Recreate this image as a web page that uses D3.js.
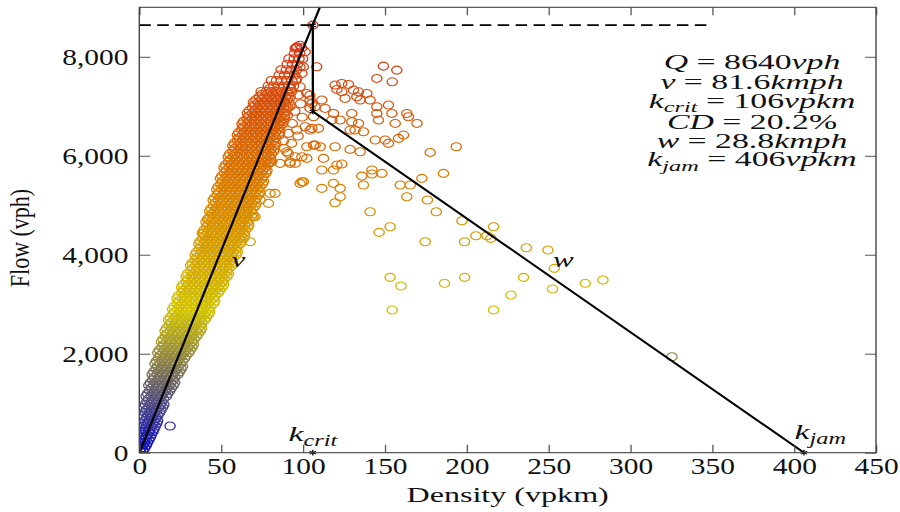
<!DOCTYPE html>
<html>
<head>
<meta charset="utf-8">
<script src="https://cdn.jsdelivr.net/npm/d3@7"></script>
<style>
  body { margin: 0; background: #fff; }
  svg { display: block; }
</style>
</head>
<body>
<svg id="chart" width="900" height="512"></svg>
<script>
// Axis ticks
const densityTicks = [0, 50, 100, 150, 200, 250, 300, 350, 400, 450];
const flowTicks = [0, 2000, 4000, 6000, 8000];

// Fitted triangular fundamental diagram parameters
const capacity = 8640;      // vph
const freeSpeed = 81.6;     // kmph
const kCrit = 106;          // vpkm
const capacityDrop = 0.202; // fraction
const waveSpeed = 28.8;     // kmph
const kJam = 406;           // vpkm
const capacityLineEnd = 350; // vpkm, end of the dashed capacity line

// Free-flow observations, grouped by flow level (vph): densities (vpkm) at that flow
const bandRows = [
  [40, [0.4, 2.2]],
  [95, [1.2, 3.3]],
  [150, [0.2, 2.1, 4.3]],
  [205, [1.0, 3.1, 5.0]],
  [260, [0.6, 3.3, 5.9]],
  [315, [1.5, 4.2, 6.8]],
  [370, [1.9, 4.7, 7.4]],
  [425, [0.9, 3.4, 6.1, 8.4]],
  [480, [0.8, 3.6, 6.3, 9.0]],
  [535, [1.7, 4.5, 7.3, 9.8]],
  [590, [2.4, 5.2, 8.4, 10.6]],
  [645, [3.2, 6.1, 9.1, 11.2]],
  [700, [1.6, 4.5, 7.6, 10.3]],
  [755, [2.4, 5.4, 8.5, 11.4]],
  [810, [3.4, 6.4, 9.3, 12.5]],
  [865, [4.2, 7.2, 10.2, 13.3]],
  [920, [2.7, 5.9, 8.8, 11.8, 14.3]],
  [975, [3.6, 6.7, 9.8, 12.9, 15.0]],
  [1030, [4.6, 7.5, 10.8, 13.7]],
  [1085, [5.5, 8.5, 11.6, 14.8]],
  [1140, [4.1, 7.3, 10.2, 13.3, 16.6]],
  [1195, [5.0, 8.2, 11.2, 14.4, 17.4]],
  [1250, [6.3, 9.5, 12.4, 15.8, 18.6]],
  [1305, [7.2, 10.3, 13.5, 16.6, 19.6]],
  [1360, [5.8, 8.8, 12.1, 15.3, 18.2, 20.8]],
  [1415, [6.7, 9.8, 13.0, 16.2, 19.3, 21.6]],
  [1470, [8.1, 11.4, 14.3, 17.6, 20.8]],
  [1525, [9.0, 12.2, 15.3, 18.5, 21.7]],
  [1580, [7.9, 11.0, 14.3, 17.2, 20.5, 23.6]],
  [1635, [8.8, 11.9, 15.1, 18.3, 21.5, 24.5]],
  [1690, [10.2, 13.4, 16.4, 19.8, 22.7, 25.6]],
  [1745, [11.1, 14.2, 17.4, 20.6, 23.8, 26.4]],
  [1800, [9.6, 12.7, 16.0, 19.1, 22.4, 25.3]],
  [1855, [10.5, 13.7, 16.9, 20.1, 23.3, 26.4]],
  [1910, [11.8, 15.1, 18.0, 21.4, 24.4, 27.7]],
  [1965, [12.7, 15.9, 19.1, 22.3, 25.5, 28.6]],
  [2020, [11.3, 14.4, 17.7, 20.7, 24.1, 27.1, 30.2]],
  [2075, [12.2, 15.4, 18.6, 21.8, 25.0, 28.2, 31.1]],
  [2130, [13.8, 17.1, 20.1, 23.5, 26.5, 29.8, 32.3]],
  [2185, [14.7, 17.9, 21.1, 24.3, 27.5, 30.7, 33.0]],
  [2240, [13.5, 16.7, 19.7, 23.1, 26.1, 29.5, 32.5]],
  [2295, [14.4, 17.6, 20.8, 24.0, 27.2, 30.4, 33.6]],
  [2350, [15.9, 19.2, 22.2, 25.6, 28.6, 32.0, 35.0]],
  [2405, [16.8, 20.0, 23.2, 26.4, 29.6, 32.8, 35.9]],
  [2460, [15.7, 18.9, 21.9, 25.3, 28.3, 31.7, 34.7, 37.3]],
  [2515, [16.6, 19.8, 23.0, 26.2, 29.4, 32.6, 35.8, 38.0]],
  [2570, [18.2, 21.5, 24.5, 27.9, 30.9, 34.3, 37.4]],
  [2625, [19.1, 22.3, 25.5, 28.7, 31.9, 35.1, 38.3]],
  [2680, [17.9, 21.1, 24.1, 27.5, 30.5, 33.9, 36.9, 40.0]],
  [2735, [18.8, 22.0, 25.2, 28.4, 31.6, 34.8, 38.0, 41.0]],
  [2790, [20.4, 23.7, 26.7, 30.1, 33.1, 36.5, 39.5, 42.2]],
  [2845, [21.3, 24.5, 27.7, 30.9, 34.1, 37.3, 40.5, 43.0]],
  [2900, [20.3, 23.5, 26.5, 29.9, 32.9, 36.3, 39.3, 42.6]],
  [2955, [21.2, 24.4, 27.6, 30.8, 34.0, 37.2, 40.4, 43.6]],
  [3010, [23.1, 26.4, 29.4, 32.8, 35.8, 39.2, 42.2, 45.3]],
  [3065, [24.0, 27.2, 30.4, 33.6, 36.8, 40.0, 43.2, 46.1]],
  [3120, [23.1, 26.3, 29.3, 32.7, 35.7, 39.1, 42.1, 45.4]],
  [3175, [24.0, 27.2, 30.4, 33.6, 36.8, 40.0, 43.2, 46.4]],
  [3230, [25.9, 29.2, 32.2, 35.6, 38.6, 42.0, 45.0, 48.3]],
  [3285, [26.8, 30.0, 33.2, 36.4, 39.6, 42.8, 46.0, 49.2]],
  [3340, [25.8, 29.0, 32.0, 35.4, 38.4, 41.8, 44.8, 48.2, 50.6]],
  [3395, [26.7, 29.9, 33.1, 36.3, 39.5, 42.7, 45.9, 49.1, 51.4]],
  [3450, [28.6, 31.9, 34.9, 38.3, 41.3, 44.7, 47.7, 51.0]],
  [3505, [29.5, 32.7, 35.9, 39.1, 42.3, 45.5, 48.7, 51.9]],
  [3560, [28.6, 31.8, 34.8, 38.2, 41.2, 44.6, 47.6, 51.0, 53.6]],
  [3615, [29.5, 32.7, 35.9, 39.1, 42.3, 45.5, 48.7, 51.9, 54.4]],
  [3670, [31.4, 34.7, 37.7, 41.1, 44.1, 47.5, 50.5, 53.8]],
  [3725, [32.3, 35.5, 38.7, 41.9, 45.1, 48.3, 51.5, 54.7]],
  [3780, [31.3, 34.5, 37.5, 40.9, 43.9, 47.3, 50.3, 53.7, 56.4]],
  [3835, [32.2, 35.4, 38.6, 41.8, 45.0, 48.2, 51.4, 54.6, 57.1]],
  [3890, [34.1, 37.4, 40.4, 43.8, 46.8, 50.2, 53.2, 56.5]],
  [3945, [35.0, 38.2, 41.4, 44.6, 47.8, 51.0, 54.2, 57.4]],
  [4000, [34.1, 37.3, 40.3, 43.7, 46.7, 50.1, 53.1, 56.5, 59.2]],
  [4055, [35.0, 38.2, 41.4, 44.6, 47.8, 51.0, 54.2, 57.4, 59.9]],
  [4110, [36.6, 39.9, 42.9, 46.3, 49.3, 52.7, 55.7, 59.0]],
  [4165, [37.5, 40.7, 43.9, 47.1, 50.3, 53.5, 56.7, 59.9]],
  [4220, [36.3, 39.5, 42.5, 45.9, 48.9, 52.3, 55.3, 58.7, 61.6]],
  [4275, [37.2, 40.4, 43.6, 46.8, 50.0, 53.2, 56.4, 59.6, 62.4]],
  [4330, [38.8, 42.1, 45.1, 48.5, 51.5, 54.9, 57.9, 61.2, 63.6]],
  [4385, [39.7, 42.9, 46.1, 49.3, 52.5, 55.7, 58.9, 62.1, 64.4]],
  [4440, [38.5, 41.7, 44.7, 48.1, 51.1, 54.5, 57.5, 60.9, 64.0]],
  [4495, [39.4, 42.6, 45.8, 49.0, 52.2, 55.4, 58.6, 61.8, 64.8]],
  [4550, [41.0, 44.3, 47.3, 50.7, 53.7, 57.1, 60.1, 63.4, 66.2]],
  [4605, [41.9, 45.1, 48.3, 51.5, 54.7, 57.9, 61.1, 64.3, 66.9]],
  [4660, [40.7, 43.9, 46.9, 50.3, 53.3, 56.7, 59.7, 63.1, 66.2]],
  [4715, [41.6, 44.8, 48.0, 51.2, 54.4, 57.6, 60.8, 64.0, 67.0]],
  [4770, [43.2, 46.5, 49.5, 52.9, 55.9, 59.3, 62.3, 65.6, 68.6]],
  [4825, [44.1, 47.3, 50.5, 53.7, 56.9, 60.1, 63.3, 66.5, 69.3]],
  [4880, [42.9, 46.1, 49.1, 52.5, 55.5, 58.9, 61.9, 65.3, 68.4]],
  [4935, [43.8, 47.0, 50.2, 53.4, 56.6, 59.8, 63.0, 66.2, 69.4]],
  [4990, [45.4, 48.7, 51.7, 55.1, 58.1, 61.5, 64.5, 67.8, 70.8]],
  [5045, [46.3, 49.5, 52.7, 55.9, 59.1, 62.3, 65.5, 68.7, 71.4]],
  [5100, [45.1, 48.3, 51.3, 54.7, 57.7, 61.1, 64.1, 67.5, 70.6]],
  [5155, [46.0, 49.2, 52.4, 55.6, 58.8, 62.0, 65.2, 68.4, 71.6]],
  [5210, [47.6, 50.9, 53.9, 57.3, 60.3, 63.7, 66.7, 70.0, 73.0]],
  [5265, [48.5, 51.7, 54.9, 58.1, 61.3, 64.5, 67.7, 70.9, 73.7]],
  [5320, [47.3, 50.5, 53.5, 56.9, 59.9, 63.3, 66.3, 69.7, 72.8]],
  [5375, [48.2, 51.4, 54.6, 57.8, 61.0, 64.2, 67.4, 70.6, 73.8]],
  [5430, [49.8, 53.1, 56.1, 59.5, 62.5, 65.9, 68.9, 72.2, 75.2]],
  [5485, [50.7, 53.9, 57.1, 60.3, 63.5, 66.7, 69.9, 73.1, 75.9]],
  [5540, [49.5, 52.7, 55.7, 59.1, 62.1, 65.5, 68.5, 71.9, 75.0]],
  [5595, [50.4, 53.6, 56.8, 60.0, 63.2, 66.4, 69.6, 72.8, 76.0]],
  [5650, [52.0, 55.3, 58.3, 61.7, 64.7, 68.1, 71.1, 74.4, 77.4]],
  [5705, [52.9, 56.1, 59.3, 62.5, 65.7, 68.9, 72.1, 75.3, 78.0]],
  [5760, [51.7, 54.9, 57.9, 61.3, 64.3, 67.7, 70.7, 74.1, 77.2]],
  [5815, [52.6, 55.8, 59.0, 62.2, 65.4, 68.6, 71.8, 75.0, 78.2]],
  [5870, [54.4, 57.7, 60.7, 64.1, 67.1, 70.5, 73.5, 76.8, 79.6]],
  [5925, [55.3, 58.5, 61.7, 64.9, 68.1, 71.3, 74.5, 77.7, 80.3]],
  [5980, [54.3, 57.5, 60.5, 63.9, 66.9, 70.3, 73.3, 76.7, 79.8]],
  [6035, [55.2, 58.4, 61.6, 64.8, 68.0, 71.2, 74.4, 77.6, 80.8]],
  [6090, [57.1, 60.4, 63.4, 66.8, 69.8, 73.2, 76.2, 79.5, 82.0]],
  [6145, [58.0, 61.2, 64.4, 67.6, 70.8, 74.0, 77.2, 80.4, 82.7]],
  [6200, [57.1, 60.3, 63.3, 66.7, 69.7, 73.1, 76.1, 79.5, 82.6]],
  [6255, [58.0, 61.2, 64.4, 67.6, 70.8, 74.0, 77.2, 80.4, 83.4]],
  [6310, [59.9, 63.2, 66.2, 69.6, 72.6, 76.0, 79.0, 82.3]],
  [6365, [60.8, 64.0, 67.2, 70.4, 73.6, 76.8, 80.0, 83.2]],
  [6420, [59.9, 63.1, 66.1, 69.5, 72.5, 75.9, 78.9, 82.3, 85.2]],
  [6475, [60.8, 64.0, 67.2, 70.4, 73.6, 76.8, 80.0, 83.2, 85.8]],
  [6530, [62.6, 65.9, 68.9, 72.3, 75.3, 78.7, 81.7, 85.0]],
  [6585, [63.5, 66.7, 69.9, 73.1, 76.3, 79.5, 82.7, 85.9]],
  [6640, [62.7, 65.9, 68.9, 72.3, 75.3, 78.7, 81.7, 85.1, 87.6]],
  [6695, [63.6, 66.8, 70.0, 73.2, 76.4, 79.6, 82.8, 86.0, 88.0]],
  [6750, [65.8, 69.1, 72.1, 75.5, 78.5, 81.9, 84.9, 88.2]],
  [6805, [66.7, 69.9, 73.1, 76.3, 79.5, 82.7, 85.9, 88.8]],
  [6860, [66.0, 69.2, 72.2, 75.6, 78.6, 82.0, 85.0, 88.3]],
  [6915, [67.2, 70.4, 73.6, 76.8, 80.0, 83.2, 86.4, 89.4]],
  [6970, [69.1, 72.4, 75.4, 78.8, 81.8, 85.2, 88.2, 90.6]],
  [7025, [70.3, 73.5, 76.7, 79.9, 83.1, 86.3, 89.5]],
  [7080, [69.7, 72.9, 75.9, 79.3, 82.3, 85.7, 88.7, 91.4]],
  [7135, [71.2, 74.4, 77.6, 80.8, 84.0, 87.2, 90.4]],
  [7190, [73.3, 76.6, 79.6, 83.0, 86.0, 89.4, 92.2]],
  [7245, [75.0, 78.2, 81.4, 84.6, 87.8, 91.0]],
  [7300, [74.4, 77.6, 80.6, 84.0, 87.0, 90.4, 93.0]],
  [7355, [79.6, 86.0, 92.4]],
  [7410, [78.8, 82.1, 85.1, 88.5, 91.5, 94.2]],
  [7520, [80.6, 83.8, 86.8, 90.2, 93.2, 95.6]],
  [7630, [85.4, 88.7, 91.7, 95.0]],
  [7740, [86.6, 89.8, 92.8, 96.1]],
  [7850, [90.3, 93.6, 96.6]],
  [7960, [91.4, 94.6, 97.6, 99.8]],
  [8070, [94.8, 98.0]],
  [8180, [96.1, 99.2]]
];

// Free-flow observations lying off the main band (density vpkm, flow vph)
const freeFlowOutliers = [
  [18.8,540],
  [42.2,4735],[39.1,4432],[67.7,4262],[69.7,4767],[70.7,4767],
  [73.8,5105],[78.9,5038],[79.9,5240],[82.9,5240],
  [78.9,5846],[86.0,5846],[90.1,6080],[92.1,5878],[95.2,5846],[80.9,5878],
  [88.0,6300],[93.0,6250],[97.0,6400],[86.5,6700],[90.5,6820],[95.0,6900],[99.5,6780],
  [88.5,6150],[93.5,6650],[98.5,7050],[92.0,7000],
  [96.2,7563],[98.2,7393],[97.2,7225],[99.3,7664],[100.2,7797],[98.2,7797],
  [101.3,8100],[96.2,8201],[95.2,8169],[98.2,8235],
  [106,8640]
];

// Congested observations (density vpkm, flow vph)
const congestedObs = [
  [108.4,7797],[149.1,7811],[157.3,7731],[145.1,7563],[154.5,7494],[119.6,7428],[123.7,7462],
  [127.8,7442],[120.7,7341],[123.7,7292],[130.8,7327],[133.9,7292],[139.0,7260],[125.7,7159],
  [132.9,7191],[134.9,7125],[141.0,7125],[145.1,6989],[152.2,7024],[154.3,6856],[145.1,6856],
  [146.1,6721],[163.4,6856],[164.4,6787],[169.6,6654],[118.6,6856],[129.8,6856],[117.6,6721],
  [122.7,6721],[129.8,6686],[133.9,6654],[128.8,6519],[131.8,6519],[136.9,6484],[111.5,7125],
  [144.1,6317],[150.2,6317],[152.2,6250],[158.3,6351],[161.4,6418],[177.7,6068],[193.6,6181],
  [106.4,6215],[110.5,6181],[119.6,6181],[128.8,6129],[134.9,6080],[102.3,5947],[112.5,5947],
  [120.7,5812],[123.7,5832],[111.5,5711],[118.6,5711],[135.9,5589],[142.1,5711],[148.2,5644],
  [100.2,5474],[118.6,5442],[136.9,5408],[159.4,5408],[165.5,5408],[172.6,5543],[185.8,5644],
  [111.5,5341],[122.7,5341],[122.7,5171],[119.6,5050],[142.1,5630],[141.0,4868],[153.2,4565],
  [146.5,4452],[163.4,5171],[176.0,5105],[181.4,4868],[174.6,4262],[197.1,4686],[198.7,4262],
  [205.6,4383],[212.3,4383],[214.8,4331],[216.4,4565],[236.4,4141],[249.6,4095],[253.5,3725],
  [252.4,3307],[234.7,3543],[227.0,3186],[216.4,2883],[198.7,3543],[186.4,3422],[153.2,3543],
  [159.8,3367],[154.5,2883],[272.4,3422],[283.2,3489],[325.4,1939],[156.3,6654],[113.5,6957],
  [109.4,6553],[104.3,6519],[96.2,6519],[91.1,6452],[104.3,6957],[106.4,6787],[101.3,6585],
  [105.4,6553],[102.3,6181],[107.4,6215],[95.2,5979],[99.3,5979],[92.1,5846],[99.3,5474],
  [105.4,7058],[104.2,7221],[107.4,6989],[102.3,7260],[104.3,7125],[98.2,5442],[91.0,6048]
];

// pgfplots "hot" colormap stops (blue -> yellow -> orange -> red)
const hotColors = ["#0b0bc6", "#d2c400", "#dc7400", "#d42c1c"];

// The figure is set horizontally wider than its type; draw in a
// narrower coordinate space and stretch it sideways.
const stretch = 1.28;
const plotLeft = 139.3 / stretch, plotRight = 876 / stretch, plotTop = 7.3, plotBottom = 452.7;
const serif = '"Liberation Serif", "Times New Roman", Tinos, "DejaVu Serif", serif';

const svg = d3.select("#chart");
const g = svg.append("g").attr("transform", `scale(${stretch},1)`);

const x = d3.scaleLinear().domain([0, 450]).range([plotLeft, plotRight]);
const y = d3.scaleLinear().domain([0, 9000]).range([plotBottom, plotTop]);

const freeFlowObs = bandRows.flatMap(([q, ks]) => ks.map(k => [k, q])).concat(freeFlowOutliers);
const allObs = freeFlowObs.concat(congestedObs);
const [qMin, qMax] = d3.extent(allObs, d => d[1]);
const color = d3.scaleLinear()
  .domain(d3.range(4).map(i => qMin + (qMax - qMin) * i / 3))
  .range(hotColors)
  .interpolate(d3.interpolateRgb);

// Clip region for the plot area
svg.append("defs").append("clipPath").attr("id", "plotClip")
  .append("rect").attr("x", plotLeft).attr("y", plotTop)
  .attr("width", plotRight - plotLeft).attr("height", plotBottom - plotTop);

// Scatter of observations
g.append("g").attr("clip-path", "url(#plotClip)")
  .selectAll("circle")
  .data(allObs)
  .join("circle")
  .attr("cx", d => x(d[0]))
  .attr("cy", d => y(d[1]))
  .attr("r", 4)
  .attr("fill", "none")
  .attr("stroke", d => color(d[1]))
  .attr("stroke-width", 1.05);

// Fitted fundamental diagram
const lines = g.append("g").attr("clip-path", "url(#plotClip)")
  .attr("fill", "none").attr("stroke", "#000");

const line = d3.line().x(d => x(d[0])).y(d => y(d[1]));
const qDrop = capacity * (1 - capacityDrop);
const kTop = 9000 / freeSpeed;

lines.append("path")
  .attr("d", line([[0, capacity], [capacityLineEnd, capacity]]))
  .attr("stroke-width", 1.6)
  .attr("stroke-dasharray", "9,5");

lines.append("path")
  .attr("d", line([[0, 0], [kTop, freeSpeed * kTop]]))
  .attr("stroke-width", 1.8);

lines.append("path")
  .attr("d", line([[kCrit, capacity], [kCrit, qDrop], [kJam, 0]]))
  .attr("stroke-width", 1.8)
  .attr("stroke-linejoin", "miter");

// Star marks at the key points
const starPts = [[kCrit, capacity], [kCrit, qDrop], [kCrit, 0], [kJam, 0]];
g.append("g").selectAll("path")
  .data(starPts)
  .join("path")
  .attr("transform", d => `translate(${x(d[0])},${y(d[1])})`)
  .attr("d", d3.symbol(d3.symbolAsterisk, 22))
  .attr("fill", "none")
  .attr("stroke", "#000")
  .attr("stroke-width", 1);

// Axes: ticks point inward on all four sides
const tickLenX = 8, tickLenY = 11 / stretch;

const xAxis = g.append("g").attr("transform", `translate(0,${plotBottom})`)
  .call(d3.axisBottom(x).tickValues(densityTicks).tickSize(-tickLenX).tickPadding(5).tickFormat(d3.format("d")));
const yAxis = g.append("g").attr("transform", `translate(${plotLeft},0)`)
  .call(d3.axisLeft(y).tickValues(flowTicks).tickSize(-tickLenY).tickPadding(8.5).tickFormat(d3.format(",")));
const xTop = g.append("g").attr("transform", `translate(0,${plotTop})`)
  .call(d3.axisTop(x).tickValues(densityTicks).tickSize(-tickLenX).tickFormat(""));
const yRight = g.append("g").attr("transform", `translate(${plotRight},0)`)
  .call(d3.axisRight(y).tickValues(flowTicks).tickSize(-tickLenY).tickFormat(""));

[xAxis, yAxis, xTop, yRight].forEach(a => {
  a.attr("font-family", null).attr("font-size", null);
  a.select(".domain").remove();
  a.selectAll(".tick line").attr("stroke", "#555").attr("stroke-width", 1);
  a.selectAll(".tick text")
    .style("font-family", serif).style("font-size", "23px").attr("fill", "#111");
});
yAxis.selectAll(".tick text").attr("dy", "0.34em");

// Frame
g.append("rect")
  .attr("x", plotLeft).attr("y", plotTop)
  .attr("width", plotRight - plotLeft).attr("height", plotBottom - plotTop)
  .attr("fill", "none").attr("stroke", "#444").attr("stroke-width", 1.1);

// Widens a text element sideways about its anchor point
function widen(sel, cx, factor) {
  sel.attr("transform", `translate(${cx},0) scale(${factor},1) translate(${-cx},0)`);
}

// Axis titles
const cxMid = (plotLeft + plotRight) / 2;
g.append("text")
  .attr("x", cxMid).attr("y", 502)
  .attr("text-anchor", "middle")
  .style("font-family", serif).style("font-size", "22px").attr("fill", "#111")
  .text("Density (vpkm)")
  .call(widen, cxMid, 1.14);

g.append("text")
  .attr("transform", `translate(${29 / stretch},${(plotTop + plotBottom) / 2 + 8}) rotate(-90)`)
  .attr("text-anchor", "middle")
  .style("font-family", serif).style("font-size", "22px").attr("fill", "#111")
  .text("Flow (vph)");

// Writes a math-style label made of [text, italic, subscript] runs
function mathText(parent, xPos, yPos, runs, size, factor) {
  const t = parent.append("text")
    .attr("x", xPos).attr("y", yPos)
    .attr("text-anchor", "middle")
    .style("font-family", serif).style("font-size", size + "px").attr("fill", "#111");
  let shifted = false;
  runs.forEach(([s, italic, sub]) => {
    const ts = t.append("tspan").text(s)
      .style("font-style", italic ? "italic" : "normal");
    if (sub) {
      ts.style("font-size", (size * 0.72) + "px").attr("dy", size * 0.22);
      shifted = true;
    } else if (shifted) {
      ts.attr("dy", -size * 0.22);
      shifted = false;
    }
  });
  if (factor) widen(t, xPos, factor);
  return t;
}

// Parameter summary
const summary = [
  [["Q", 1], [" = " + capacity, 0], ["vph", 1]],
  [["v", 1], [" = " + freeSpeed, 0], ["kmph", 1]],
  [["k", 1], ["crit", 1, 1], [" = " + kCrit, 0], ["vpkm", 1]],
  [["CD", 1], [" = " + (capacityDrop * 100).toFixed(1) + "%", 0]],
  [["w", 1], [" = " + waveSpeed, 0], ["kmph", 1]],
  [["k", 1], ["jam", 1, 1], [" = " + kJam, 0], ["vpkm", 1]]
];
const summaryBase = [69, 89, 108, 129, 148, 166.5];
summary.forEach((runs, i) => mathText(g, 752 / stretch, summaryBase[i], runs, 20, 1.32));

// In-plot annotations
mathText(g, x(60.5), y(3760), [["v", 1]], 22, 1.1);
mathText(g, x(259), y(3760), [["w", 1]], 22, 1.1);
mathText(g, x(kCrit), 441, [["k", 1], ["crit", 1, 1]], 22, 1.2);
mathText(g, x(kJam + 10), 439, [["k", 1], ["jam", 1, 1]], 22, 1.2);
</script>
</body>
</html>
